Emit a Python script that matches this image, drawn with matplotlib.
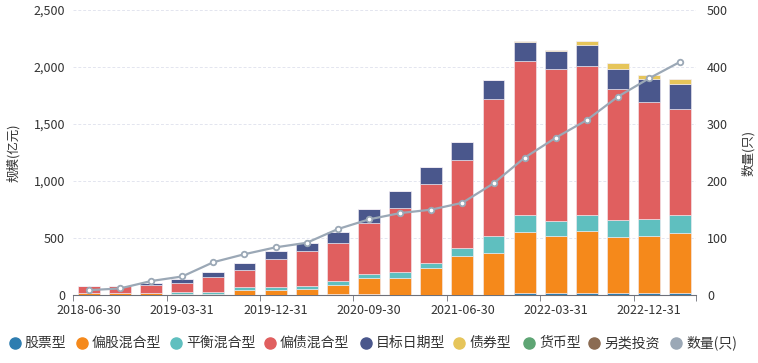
import numpy as np
import matplotlib
matplotlib.use('Agg')
import matplotlib.pyplot as plt
from matplotlib.lines import Line2D

plt.rcParams['font.family'] = ['Noto Sans CJK SC', 'DejaVu Sans']

# ── Data ─────────────────────────────────────────────────────────────────────
dates = ['2018-06-30', '2018-09-30', '2018-12-31', '2019-03-31', '2019-06-30',
         '2019-09-30', '2019-12-31', '2020-03-31', '2020-06-30', '2020-09-30',
         '2020-12-31', '2021-03-31', '2021-06-30', '2021-09-30', '2021-12-31',
         '2022-03-31', '2022-06-30', '2022-09-30', '2022-12-31', '2023-03-31']

stock      = [0, 0, 0, 0, 0, 0, 0, 0, 0, 0, 0, 0, 0, 0, 17, 17, 20, 20, 20, 20]
equity_mix = [17, 17, 17, 15, 15, 50, 44, 55, 80, 141, 155, 239, 348, 368, 541, 506, 544, 491, 503, 523]
balanced   = [0, 0, 0, 14, 17, 20, 29, 30, 38, 41, 46, 47, 67, 149, 143, 128, 140, 152, 149, 164]
bond_mix   = [65, 68, 73, 82, 129, 152, 245, 306, 330, 447, 567, 689, 771, 1200, 1349, 1329, 1300, 1142, 1022, 926]
target     = [0, 0, 21, 29, 46, 58, 70, 70, 102, 119, 146, 149, 160, 170, 170, 160, 190, 175, 199, 219]
bond       = [0, 0, 0, 0, 0, 0, 0, 0, 0, 0, 0, 0, 0, 0, 8, 9, 34, 58, 37, 45]
money      = [0] * 20
alt        = [0, 0, 0, 0, 0, 0, 0, 0, 8, 8, 0, 0, 0, 0, 0, 0, 0, 0, 0, 0]
count      = [9, 12, 25, 33, 58, 72, 84, 92, 116, 133, 144, 150, 162, 196, 241, 276, 307, 348, 380, 409]

names  = ['股票型', '偏股混合型', '平衡混合型', '偏债混合型', '目标日期型', '债券型', '货币型', '另类投资']
colors = ['#2e7db0', '#f5891b', '#5fbfbf', '#e05f5f', '#4a578c', '#e6c55a', '#5ea574', '#8b6b52']
series = [stock, equity_mix, balanced, bond_mix, target, bond, money, alt]
line_color = '#9ba8b6'

# stacking order as seen in the picture (另类投资 sits at the bottom)
stack_order = [7, 0, 1, 2, 3, 4, 5, 6]

fig = plt.figure(figsize=(7.58, 3.63), dpi=100)
ax = fig.add_axes([0.0967, 0.1865, 0.8213, 0.7865])
x = np.arange(len(dates))

bottom = np.zeros(len(dates))
for i in stack_order:
    vals = np.array(series[i], dtype=float)
    ax.bar(x, vals, bottom=bottom, width=0.7, color=colors[i],
           edgecolor='#f3eef5', linewidth=0.4, zorder=3)
    bottom += vals

ax.set_xlim(-0.5, len(dates) - 0.5)
ax.set_ylim(0, 2500)
ax.set_yticks(np.arange(0, 2501, 500))
ax.set_yticklabels([f'{v:,}' for v in range(0, 2501, 500)], fontsize=9, color='#333333')
ax.yaxis.grid(True, color='#e3e5ef', linestyle=(0, (3, 2)), linewidth=0.7, zorder=0)
ax.set_axisbelow(True)
ax.tick_params(axis='y', length=0, pad=6)

ax.set_xticks(x[::3])
ax.set_xticklabels([dates[i] for i in range(0, len(dates), 3)], fontsize=9, color='#333333')
ax.set_xticks(np.arange(-0.5, len(dates), 3).tolist() + [len(dates) - 0.5], minor=True)
ax.tick_params(axis='x', which='major', length=0, pad=6)
ax.tick_params(axis='x', which='minor', length=4, color='#6e7079')

for s in ['top', 'right', 'left']:
    ax.spines[s].set_visible(False)
ax.spines['bottom'].set_color('#6e7079')

ax.set_ylabel('规模(亿元)', fontsize=9, color='#333333', labelpad=10)

ax2 = ax.twinx()
ax2.set_ylim(0, 500)
ax2.set_yticks(np.arange(0, 501, 100))
ax2.set_yticklabels([str(v) for v in range(0, 501, 100)], fontsize=9, color='#333333')
ax2.tick_params(axis='y', length=0, pad=8)
for s in ['top', 'right', 'left', 'bottom']:
    ax2.spines[s].set_visible(False)
ax2.plot(x, count, color=line_color, lw=1.6, marker='o', markersize=4,
         markerfacecolor='white', markeredgecolor=line_color, markeredgewidth=1.3, zorder=5)
ax2.set_ylabel('数量(只)', fontsize=9, color='#333333', labelpad=10)

# ── Legend (bottom row) ──────────────────────────────────────────────────────
leg_names = names + ['数量(只)']
leg_colors = colors + [line_color]
leg_x = [14.5, 82, 176, 270, 366, 459, 529, 594, 676]
y_leg = 1 - 343 / 363
for nm, c, px in zip(leg_names, leg_colors, leg_x):
    fig.add_artist(Line2D([px / 758], [y_leg], marker='o', markersize=8,
                          color=c, linestyle='none', transform=fig.transFigure))
    fig.text((px + 10) / 758, y_leg, nm, fontsize=10, color='#333333',
             va='center', ha='left')

fig.savefig('out.png', dpi=100)
